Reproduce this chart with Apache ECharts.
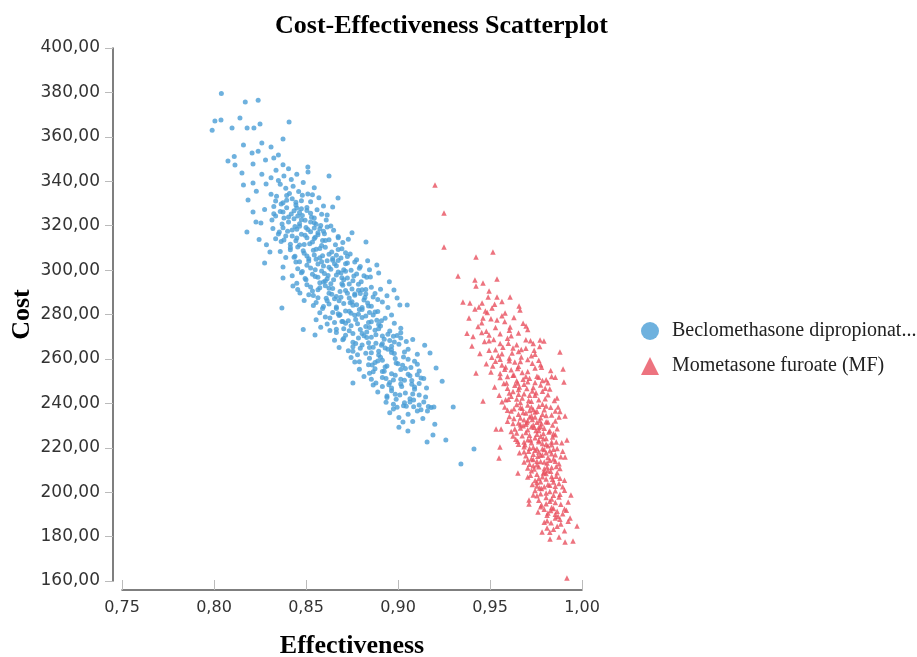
<!DOCTYPE html>
<html>
<head>
<meta charset="utf-8">
<script src="https://cdn.jsdelivr.net/npm/echarts@6/dist/echarts.min.js"></script>
<style>html,body{margin:0;padding:0;background:#fff;}#c{width:917px;height:657px;}</style>
</head>
<body>
<div id="c"></div>
<script>
var titleText = 'Cost-Effectiveness Scatterplot';
var xName = 'Effectiveness';
var yName = 'Cost';
var seriesNames = ['Beclomethasone dipropionat...', 'Mometasone furoate (MF)'];
var xTicks = [0.75, 0.80, 0.85, 0.90, 0.95, 1.00];
var yTicks = [160, 180, 200, 220, 240, 260, 280, 300, 320, 340, 360, 380, 400];

var bdp = [
[0.804,379.5],[0.817,375.7],[0.824,376.5],
[0.8038,367.6],[0.8005,367.1],[0.8141,368.5],[0.818,364],[0.799,363],[0.8098,364],[0.8217,364],[0.825,365.8],[0.8408,366.7],
[0.8375,359],[0.816,356.3],[0.831,355.4],[0.8207,352.7],[0.824,353.5],[0.826,357.2],[0.811,351.2],[0.835,351.8],
[0.8076,349.1],[0.8114,347.3],[0.8212,347.8],[0.828,349.6],[0.8325,350.5],[0.8337,345],[0.8375,347.4],[0.8511,344.2],[0.8152,343.7],[0.826,343.1],[0.831,341.6],[0.838,342.4],[0.842,340.8],[0.8405,345.6],[0.845,343.2],[0.835,340.3],[0.8625,342.4],[0.851,346.4],
[0.816,338.3],[0.8212,339.2],[0.8283,338.8],[0.8674,332.5],[0.8185,331.6],[0.836,338.6],[0.839,336.9],[0.843,337.7],[0.846,335.4],[0.8395,333.6],[0.8425,332.1],[0.8475,331.2],[0.851,334.3],[0.8545,337.1],[0.831,334.2],[0.8335,331.1],[0.8485,339.4],[0.857,332.6],[0.8445,330.5],[0.8375,330.3],[0.8525,330.8],[0.823,335.5],
[0.8275,327.3],[0.8325,328.6],[0.836,326.4],[0.8395,328.1],[0.842,325.2],[0.845,327.9],[0.848,324.6],[0.8505,326.8],[0.853,323.8],[0.856,327.2],[0.8585,325.1],[0.861,322.6],[0.8645,328.4],[0.8405,321.7],[0.8435,323.1],[0.8465,320.9],[0.8495,322.4],[0.8545,321.3],[0.838,323.4],[0.8315,322.5],[0.8255,321.2],[0.8179,317.1],[0.8212,326.2],[0.8228,321.7],[0.8525,325.6],[0.8555,320.6],[0.8475,327.6],[0.8595,328.9],
[0.832,318.7],[0.835,316.2],[0.8375,319.1],[0.840,317.5],[0.8425,315.3],[0.845,318.4],[0.8475,316.1],[0.850,319.2],[0.8525,317.3],[0.855,314.8],[0.8575,318.6],[0.860,316.4],[0.8625,313.7],[0.865,317.9],[0.8675,315.1],[0.870,312.4],[0.8415,311.6],[0.8445,313.2],[0.849,311.5],[0.8535,312.6],[0.8585,311.1],[0.8615,319.4],[0.8365,312.9],[0.8335,314.1],[0.8465,319.7],[0.8565,315.9],[0.8245,313.8],[0.8285,311.4],[0.875,316.8],[0.8826,312.6],[0.8505,314.6],[0.8605,313.3],[0.8455,310.4],[0.8545,318.9],
[0.836,308.4],[0.839,305.7],[0.8415,309.1],[0.844,306.2],[0.8465,303.8],[0.849,307.6],[0.8515,305.1],[0.854,308.9],[0.8565,302.7],[0.859,306.5],[0.8615,304.2],[0.864,308.1],[0.8665,301.9],[0.869,305.4],[0.8715,302.8],[0.874,307.2],[0.8765,303.6],[0.879,300.8],[0.8525,300.9],[0.8575,309.7],[0.8625,301.3],[0.8455,300.6],[0.8675,309.3],[0.8705,300.2],[0.8555,304.9],[0.8505,302.2],[0.8645,304.4],[0.8304,308.1],[0.8275,303.2],[0.8375,301.4],[0.8725,306.1],[0.8835,304.2],[0.8885,302.3],[0.8595,301.8],[0.8665,306.7],[0.8545,306.8],
[0.8425,297.5],[0.845,294.1],[0.8475,298.8],[0.850,295.6],[0.8525,292.4],[0.855,297.1],[0.8575,294.3],[0.860,298.5],[0.8625,291.8],[0.865,295.7],[0.8675,299.1],[0.870,293.2],[0.8725,296.4],[0.875,291.5],[0.8775,298.2],[0.880,294.8],[0.8825,291.3],[0.885,296.9],[0.8535,290.6],[0.8585,299.6],[0.8635,293.9],[0.8685,290.4],[0.8735,293.7],[0.8785,290.9],[0.8565,291.2],[0.8615,296.1],[0.8665,297.8],[0.8715,299.5],[0.8455,291.3],[0.8429,292.8],[0.8953,294.8],[0.8978,291],[0.8895,298.7],[0.8375,296.4],[0.8695,296.6],[0.8755,295.2],[0.8605,292.9],[0.8815,297.4],
[0.8467,289.7],[0.849,286.3],[0.8515,288.9],[0.854,284.1],[0.8565,287.5],[0.859,282.7],[0.8615,286.2],[0.864,289.1],[0.8665,283.4],[0.869,287.8],[0.8715,281.6],[0.874,285.3],[0.8765,288.7],[0.879,282.2],[0.8815,286.5],[0.884,283.8],[0.8865,287.9],[0.889,281.4],[0.8915,285.6],[0.8995,287.4],[0.8745,280.6],[0.8795,289.4],[0.8845,280.9],[0.8675,280.3],[0.8625,284.7],[0.8725,289.6],[0.8775,284.4],[0.8825,289.2],[0.8369,282.9],[0.894,288.4],[0.901,284.3],[0.905,284.3],[0.8575,280.8],[0.8705,284.9],[0.8655,287.1],[0.8805,283.1],
[0.8555,277.6],[0.858,274.3],[0.8605,278.9],[0.863,272.8],[0.8655,276.4],[0.868,279.5],[0.8705,273.6],[0.873,277.2],[0.8755,271.4],[0.878,275.8],[0.8805,278.6],[0.883,272.1],[0.8855,276.7],[0.888,270.9],[0.8905,274.8],[0.893,278.3],[0.8955,272.6],[0.898,276.1],[0.8815,270.4],[0.8765,279.7],[0.8715,270.7],[0.8665,271.9],[0.8865,279.8],[0.8915,270.3],[0.8845,274.2],[0.8795,273.3],[0.8745,274.9],[0.8485,273.2],[0.9015,271.8],[0.8975,270.2],[0.8695,276.9],[0.8885,277.4],
[0.8655,268.4],[0.868,265.1],[0.8705,269.2],[0.873,263.7],[0.8755,267.5],[0.878,261.9],[0.8805,266.3],[0.883,269.6],[0.8855,262.8],[0.888,267.1],[0.8905,260.7],[0.893,264.9],[0.8955,268.3],[0.898,262.4],[0.9005,266.6],[0.903,260.9],[0.9055,264.3],[0.908,268.7],[0.9105,262.1],[0.8865,265.3],[0.8915,266.8],[0.8965,264.1],[0.9015,269.4],[0.8845,260.3],[0.8795,264.8],[0.8745,260.6],[0.8549,270.8],[0.9174,262.7],[0.9145,266.2],[0.8895,263.4],
[0.8765,258.6],[0.879,255.3],[0.8815,252.1],[0.884,257.4],[0.8865,254.2],[0.889,259.1],[0.8915,251.6],[0.894,256.8],[0.8965,253.3],[0.899,258.2],[0.9015,250.9],[0.904,255.7],[0.9065,252.4],[0.909,258.9],[0.9115,254.6],[0.914,251.2],[0.8925,254.4],[0.8975,250.5],[0.9025,257.1],[0.9075,250.3],[0.8755,249.2],[0.9207,255.9],[0.924,250],[0.8855,250.8],[0.8875,258.4],
[0.8865,248.2],[0.889,245.1],[0.8915,247.6],[0.894,243.3],[0.8965,246.9],[0.899,241.8],[0.9015,248.7],[0.904,244.6],[0.9065,242.1],[0.909,247.3],[0.9115,243.8],[0.914,240.6],[0.9165,238.6],[0.918,238.1],[0.9195,238.4],[0.8935,240.5],[0.8985,244.1],[0.9035,240.3],[0.9085,241.5],[0.8955,249.4],[0.9115,248.9],[0.93,238.3],
[0.8975,237.4],[0.9005,233.6],[0.903,238.9],[0.9055,235.1],[0.908,231.8],[0.9105,236.6],[0.9135,233.2],[0.916,236.5],[0.9027,231.6],[0.92,230.6],[0.9085,238.5],[0.8955,235.8],
[0.9054,227.5],[0.9158,222.6],[0.919,225.7],[0.926,223.5],[0.9342,212.7],[0.9413,219.4],[0.9005,229.2]
];

var bdpCore = [
[0.834,333.2],[0.8375,326.1],[0.841,334.5],[0.8445,329.3],[0.848,333.7],[0.8365,329.8],[0.8435,326.7],[0.8505,328.2],[0.8395,331.4],[0.8465,325.9],[0.8535,333.9],[0.8325,325.4],
[0.8335,324.3],[0.837,320.8],[0.8405,323.9],[0.844,319.6],[0.8475,322.7],[0.851,318.3],[0.8545,323.5],[0.858,320.1],[0.8615,324.8],[0.8355,317.2],[0.8425,318.1],[0.8495,315.7],[0.8565,316.8],[0.8635,319.9],[0.8455,324.4],[0.8525,321.6],[0.8595,317.5],[0.839,315.4],
[0.838,313.6],[0.8415,310.2],[0.845,314.5],[0.8485,308.7],[0.852,311.9],[0.8555,309.4],[0.859,313.3],[0.8625,307.1],[0.866,311.4],[0.8695,309.6],[0.873,313.9],[0.8435,305.8],[0.8505,306.3],[0.8575,305.6],[0.8645,305.2],[0.8715,307.8],[0.8545,314.2],[0.8605,310.3],[0.8675,314.6],[0.8465,311.3],
[0.8445,303.6],[0.848,299.4],[0.8515,304.1],[0.855,300.2],[0.8585,303.7],[0.862,297.6],[0.8655,302.9],[0.869,298.7],[0.8725,303.2],[0.876,297.3],[0.8795,301.6],[0.883,296.8],[0.8495,296.2],[0.8565,296.8],[0.8635,300.4],[0.8705,295.6],[0.8775,304.7],[0.8845,300.1],[0.8605,295.1],[0.8675,304.3],[0.8535,298.1],[0.8745,299.9],
[0.8505,293.4],[0.854,288.6],[0.8575,292.1],[0.861,287.3],[0.8645,291.7],[0.868,286.2],[0.8715,290.8],[0.875,285.7],[0.8785,293.6],[0.882,287.6],[0.8855,292.3],[0.889,286.7],[0.8555,285.4],[0.8625,289.6],[0.8695,293.8],[0.8765,289.2],[0.8835,285.2],[0.8905,291.4],[0.8595,294.6],[0.8665,288.1],[0.8735,287.4],[0.8805,291.1],[0.8875,289.5],
[0.8595,283.6],[0.863,278.4],[0.8665,282.7],[0.87,276.9],[0.8735,281.5],[0.877,277.8],[0.8805,282.3],[0.884,276.4],[0.8875,281.1],[0.891,277.2],[0.8945,283.1],[0.8615,275.7],[0.8685,279.9],[0.8755,284.2],[0.8825,279.3],[0.8895,275.5],[0.8965,279.8],[0.8715,276.1],[0.8785,280.1],[0.8855,283.7],[0.8645,280.9],
[0.8665,273.4],[0.87,268.6],[0.8735,272.7],[0.877,266.9],[0.8805,271.5],[0.884,267.3],[0.8875,272.9],[0.891,266.2],[0.8945,271.1],[0.898,267.6],[0.9015,273.8],[0.8785,269.4],[0.8855,269.8],[0.8925,268.9],[0.8995,270.5],[0.8825,274.6],[0.8895,273.6],[0.8755,265.5],[0.8965,265.7],[0.9045,267.8],
[0.8755,263.4],[0.879,258.7],[0.8825,262.6],[0.886,257.3],[0.8895,261.8],[0.893,256.4],[0.8965,262.9],[0.9,257.8],[0.9035,263.1],[0.907,256.1],[0.8845,265.1],[0.8915,259.4],[0.8985,260.2],[0.9055,259.8],[0.9105,257.6],[0.8875,255.6],[0.8945,264.4],[0.9015,255.2],
[0.8845,253.6],[0.888,249.1],[0.8915,254.3],[0.895,248.4],[0.8985,252.7],[0.902,247.6],[0.9055,253.1],[0.909,246.3],[0.9125,251.4],[0.8965,245.7],[0.9035,250.4],[0.9105,252.9],[0.8935,251.2],[0.9075,248.6],[0.9155,246.9],
[0.894,242.6],[0.8975,239.6],[0.901,243.8],[0.9045,238.7],[0.908,244.2],[0.9115,239.3],[0.915,242.8],[0.9065,240.6],[0.8995,238.2],[0.9125,237.1]
];

var mf = [
[0.9201,338.3],[0.925,325.7],[0.925,310.4],[0.9424,305.9],[0.9516,308.1],[0.9326,297.3],[0.9538,296],[0.9418,295.5],[0.9462,294.2],[0.9424,292.8],[0.9495,290.6],[0.9538,287.9],[0.949,287.9],[0.9353,285.6],[0.9391,285.2],[0.9609,287.9],[0.9658,283.8],[0.9457,285.2],[0.944,283.4],[0.9418,282.5],[0.9511,282.9],[0.9462,278.4],[0.9386,278.4],[0.9582,280.7],[0.9538,277.5],[0.9663,282],[0.9696,274.8],[0.9375,271.6],[0.9408,270.1],[0.9609,274.4],[0.9772,268.5],
[0.9455,276.3],[0.948,272.5],[0.9505,278.1],[0.953,274.2],[0.9555,271.3],[0.958,276.8],[0.9605,272.9],[0.963,278.6],[0.9655,271.7],[0.968,276.1],[0.9705,273.2],[0.9495,270.8],[0.9565,279.4],[0.9615,270.4],[0.9455,271.9],[0.9435,274.6],[0.9485,280.9],[0.9525,284.6],[0.9565,285.8],[0.9475,281.6],
[0.9402,265.8],[0.9445,262.4],[0.947,267.8],[0.9495,263.9],[0.952,268.7],[0.9545,261.5],[0.957,265.2],[0.9595,269.3],[0.962,262.7],[0.9645,266.4],[0.967,260.9],[0.9695,264.8],[0.972,268.2],[0.9745,262.1],[0.977,265.6],[0.9793,268.1],[0.988,263.1],[0.9555,266.9],[0.9605,260.4],[0.9655,263.3],[0.951,260.7],[0.9735,266.9],
[0.9424,253.7],[0.948,257.8],[0.9505,254.1],[0.953,258.9],[0.9555,251.6],[0.958,255.4],[0.9605,259.2],[0.963,252.8],[0.9655,256.7],[0.968,250.9],[0.9705,254.3],[0.973,258.1],[0.9755,252.2],[0.978,256.3],[0.9805,250.6],[0.983,254.8],[0.9897,255.5],[0.9615,255.1],[0.9665,258.8],[0.9715,251.3],[0.9565,257.3],[0.9765,259.4],[0.9645,250.2],[0.9595,252.1],[0.9745,255.9],[0.9855,251.7],
[0.9462,241],[0.9525,247.3],[0.955,243.6],[0.9575,248.9],[0.960,241.8],[0.9625,245.3],[0.965,249.1],[0.9675,242.4],[0.970,246.7],[0.9725,240.9],[0.975,244.8],[0.9775,248.2],[0.980,242.1],[0.9825,246.4],[0.985,241.3],[0.9902,249.6],[0.9864,242.4],[0.9615,243.2],[0.9635,248.1],[0.9665,240.4],[0.9685,244.3],[0.9705,249.7],[0.9735,247.1],[0.9765,241.6],[0.9785,245.4],[0.9655,246.2],[0.9715,243.6],[0.9595,246.8],[0.9745,249.4],[0.9815,249.3],[0.9565,240.7],[0.9685,248.6],
[0.958,238.4],[0.9605,234.1],[0.963,237.6],[0.9655,231.2],[0.968,235.9],[0.9705,239.2],[0.973,232.7],[0.9755,236.4],[0.978,230.8],[0.9805,234.5],[0.983,238.2],[0.9855,232.1],[0.988,236.3],[0.987,238.4],[0.9908,234.3],[0.9645,239.5],[0.9665,233.4],[0.9695,230.6],[0.9715,236.8],[0.9745,233.9],[0.9765,238.7],[0.9795,237.1],[0.9815,231.6],[0.9675,237.8],[0.9725,234.4],[0.9775,233.5],[0.9625,230.9],[0.9595,231.9],[0.9735,230.3],[0.9685,232.6],[0.9785,239.6],[0.9705,232.2],[0.9655,235.1],[0.9755,231.5],[0.9835,234.7],[0.9615,236.5],
[0.9533,228.4],[0.956,228.4],[0.9615,227.3],[0.964,223.8],[0.9665,228.9],[0.969,221.4],[0.9715,225.6],[0.974,229.2],[0.9765,222.7],[0.979,226.4],[0.9815,220.9],[0.984,224.8],[0.9865,228.6],[0.989,222.3],[0.9918,223.5],[0.9675,225.4],[0.9705,228.1],[0.9725,222.3],[0.9755,226.1],[0.9775,229.6],[0.9805,224.2],[0.9825,227.7],[0.9685,220.5],[0.9735,220.2],[0.9785,221.9],[0.9655,221.6],[0.9745,224.5],[0.9795,228.8],[0.9705,223.6],[0.9765,227.8],[0.9835,221.4],[0.9855,225.9],[0.9625,225.3],[0.9695,226.9],[0.9725,229.4],[0.9775,225.2],
[0.9554,220.3],[0.9549,215.4],[0.966,217.8],[0.9685,213.6],[0.971,218.4],[0.9735,211.9],[0.976,216.2],[0.9785,219.5],[0.981,213.1],[0.9835,217.3],[0.986,211.6],[0.9885,215.9],[0.9908,215.8],[0.9725,215.1],[0.9745,218.9],[0.9775,213.8],[0.9795,210.6],[0.9825,214.4],[0.9845,219.3],[0.9705,210.9],[0.9765,211.5],[0.9805,217.7],[0.9695,216.4],[0.9755,213.9],[0.9815,215.6],[0.9875,212.8],[0.9735,214.7],[0.9785,216.7],[0.9715,212.6],[0.9835,211.1],[0.9795,219.2],[0.9765,218.1],[0.9855,216.8],
[0.9652,208.6],[0.9705,206.8],[0.973,203.4],[0.9755,208.1],[0.978,201.6],[0.9805,205.9],[0.983,209.4],[0.9855,202.7],[0.988,206.3],[0.9905,200.9],[0.9745,200.8],[0.9775,204.7],[0.9795,209.1],[0.9825,200.3],[0.9845,204.6],[0.9865,208.7],[0.9765,206.2],[0.9815,203.5],[0.9725,209.6],[0.9835,207.1],[0.9795,202.4],[0.9875,203.9],[0.9755,202.8],[0.9805,208.4],
[0.9712,196.5],[0.9712,194.7],[0.9761,191.1],[0.9755,198.4],[0.978,194.2],[0.9805,197.6],[0.983,191.8],[0.9855,195.3],[0.988,199.1],[0.9905,192.4],[0.994,198.7],[0.9795,192.3],[0.9825,195.9],[0.9845,198.6],[0.9865,191.4],[0.9775,199.3],[0.9815,190.6],[0.9885,194.6],[0.9835,193.1],[0.9925,195.6],
[0.981,187.1],[0.9783,182.1],[0.981,183.9],[0.9826,178.9],[0.9875,179.8],[0.9908,177.6],[0.9951,178],[0.9832,186.2],[0.9973,184.8],[0.9855,188.4],[0.9885,185.7],[0.9905,182.6],[0.9845,183.3],[0.987,189.2],[0.9925,186.9],[0.9918,161.3]
];

var mfCore = [
[0.9495,268.2],[0.953,264.1],[0.9565,262.3],[0.96,267.1],[0.9635,258.6],[0.967,264.2],[0.9705,259.7],[0.974,263.9],[0.9775,257.4],[0.9585,256.4],[0.9555,259.8],[0.9625,264.9],[0.9695,268.6],[0.9725,261.4],[0.965,255.7],[0.9515,256.8],
[0.9555,253.4],[0.959,249.2],[0.9625,252.7],[0.966,247.3],[0.9695,252.1],[0.973,245.6],[0.9765,251.8],[0.98,246.8],[0.9835,252.1],[0.9605,244.7],[0.9645,241.9],[0.971,241.3],[0.9745,243.6],[0.9785,250.3],[0.9675,253.9],[0.9585,241.6],[0.9815,243.9],[0.9655,244.1],
[0.9595,236.9],[0.963,233.2],[0.9665,238.1],[0.97,231.4],[0.9735,237.2],[0.977,232.2],[0.9805,238.8],[0.984,230.2],[0.9875,233.9],[0.9645,226.6],[0.968,229.9],[0.9715,233.9],[0.975,227.8],[0.9785,235.1],[0.982,227.1],[0.9855,236.6],[0.9725,238.4],[0.9695,235.6],[0.9765,229.1],[0.9805,231.7],[0.9665,230.4],[0.9745,236.1],[0.9635,228.4],[0.9845,226.3],
[0.965,222.9],[0.9685,218.2],[0.972,223.6],[0.9755,219.6],[0.979,224.1],[0.9825,218.6],[0.986,222.6],[0.9895,218.4],[0.9705,214.6],[0.974,210.4],[0.9775,216.7],[0.981,211.3],[0.9845,214.9],[0.988,210.7],[0.9735,217.1],[0.9805,221.6],[0.9865,219.7],[0.9765,223.4],[0.9715,219.8],[0.9795,213.6],[0.9835,222.6],[0.9755,212.3],[0.9685,222.6],[0.9855,213.9],
[0.972,207.6],[0.9755,204.4],[0.979,208.6],[0.9825,203.1],[0.986,207.2],[0.9895,202.4],[0.9735,198.7],[0.977,201.9],[0.9805,199.6],[0.984,205.8],[0.9875,197.8],[0.9785,206.9],[0.9815,209.8],[0.9855,200.6],[0.9765,196.4],[0.9905,205.4],[0.9745,205.3],[0.9835,196.9],
[0.9775,193.4],[0.981,189.6],[0.9845,192.7],[0.988,187.8],[0.9915,191.9],[0.9795,186.4],[0.9865,184.6],[0.9825,181.9],[0.9895,190.3],[0.9805,194.8],[0.9855,190.1],[0.9935,188.4]
];

var fmt = function (d) { return function (v) { return v.toFixed(d).replace('.', ','); }; };
var chart = echarts.init(document.getElementById('c'), null, {renderer: 'canvas'});
var serif = '"Liberation Serif", "DejaVu Serif", serif';
var sans = '"DejaVu Sans", sans-serif';
chart.setOption({
  animation: false,
  backgroundColor: '#ffffff',
  title: {
    text: titleText, left: 270, top: 8,
    textStyle: {fontFamily: serif, fontWeight: 'bold', fontSize: 26, color: '#000'}
  },
  legend: {
    orient: 'vertical', left: 636, top: 316, itemWidth: 18, itemHeight: 18, itemGap: 15,
    data: [{name: seriesNames[0], icon: 'circle'}, {name: seriesNames[1], icon: 'triangle'}],
    textStyle: {fontFamily: serif, fontSize: 20, color: '#222', padding: [0, 0, 0, 8]}
  },
  grid: {left: 122, right: 335, top: 48, bottom: 76, containLabel: false, outerBoundsMode: 'none'},
  xAxis: {
    type: 'value', min: xTicks[0], max: xTicks[xTicks.length - 1], interval: 0.05, offset: 9,
    name: xName, nameLocation: 'middle', nameGap: 43, nameMoveOverlap: false,
    nameTextStyle: {fontFamily: serif, fontWeight: 'bold', fontSize: 26, color: '#000'},
    axisLine: {lineStyle: {color: '#555', width: 1.5}},
    axisTick: {inside: true, length: 10, lineStyle: {color: '#bbb'}},
    axisLabel: {formatter: fmt(2), fontFamily: sans, fontSize: 16, color: '#333', margin: 10},
    splitLine: {show: false}
  },
  yAxis: {
    type: 'value', min: yTicks[0], max: yTicks[yTicks.length - 1], interval: 20, offset: 9,
    name: yName, nameLocation: 'middle', nameGap: 78, nameRotate: 90, nameMoveOverlap: false,
    nameTextStyle: {fontFamily: serif, fontWeight: 'bold', fontSize: 26, color: '#000'},
    axisLine: {show: true, lineStyle: {color: '#555', width: 1.5}},
    axisTick: {show: true, length: 8, lineStyle: {color: '#bbb'}},
    axisLabel: {formatter: fmt(2), fontFamily: sans, fontSize: 17, color: '#333', margin: 13},
    splitLine: {show: false}
  },
  series: [
    {name: seriesNames[0], type: 'scatter', symbol: 'circle', symbolSize: 5, data: bdp.concat(bdpCore),
     itemStyle: {color: '#4a9ed6'}},
    {name: seriesNames[1], type: 'scatter', symbol: 'triangle', symbolSize: 5.5, data: mf.concat(mfCore),
     itemStyle: {color: '#e8505f'}}
  ]
});
</script>
</body>
</html>
